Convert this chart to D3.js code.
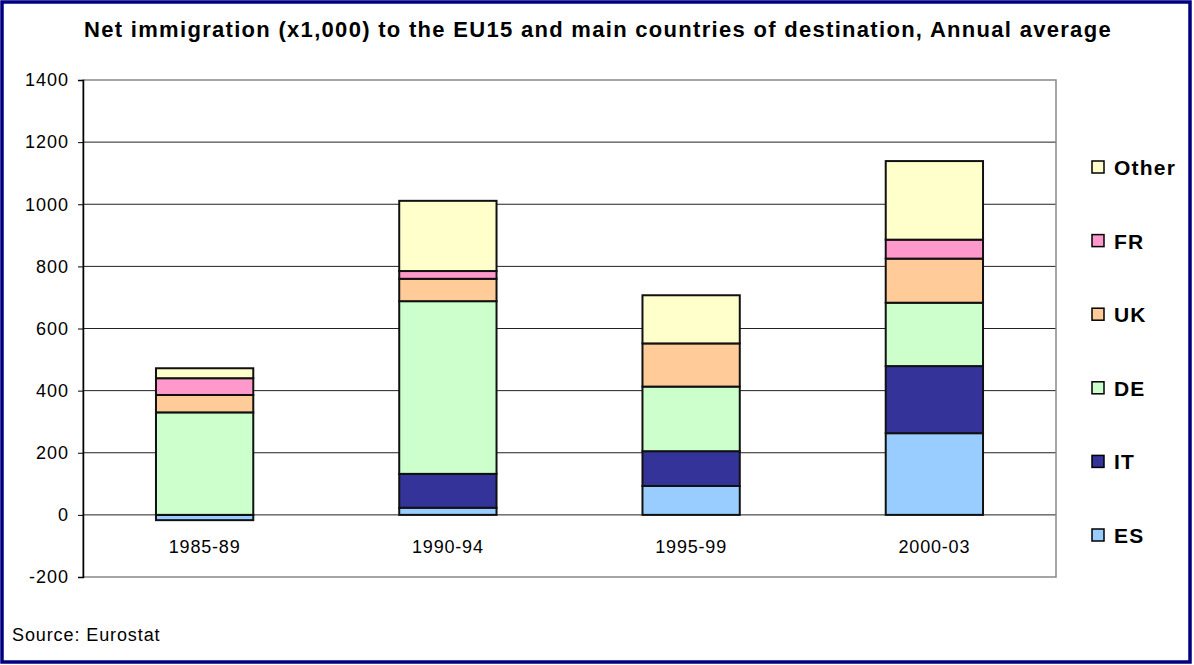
<!DOCTYPE html>
<html>
<head>
<meta charset="utf-8">
<script src="https://cdn.jsdelivr.net/npm/d3@7"></script>
<style>
  body { margin: 0; background: #fff; }
  text { font-family: Arial, 'Liberation Sans', sans-serif; }
</style>
</head>
<body>
<div id="chart"></div>
<script>
const periods = ['1985-89', '1990-94', '1995-99', '2000-03']
const countries = ['ES', 'IT', 'DE', 'UK', 'FR', 'Other']
const colors = ['#99ccff', '#333399', '#ccffcc', '#ffcc99', '#ff99cc', '#ffffcc']

// values, x1,000
const esValues = [-17, 23, 93, 263]
const itValues = [0, 109, 112, 216]
const deValues = [330, 556, 208, 204]
const ukValues = [56, 72, 139, 142]
const frValues = [54, 25, 0, 61]
const otherValues = [32, 226, 155, 253]

const yTicks = [-200, 0, 200, 400, 600, 800, 1000, 1200, 1400]

const seriesValues = [esValues, itValues, deValues, ukValues, frValues, otherValues]
const rows = periods.map((p, i) => {
  const row = { period: p }
  countries.forEach((c, j) => { row[c] = seriesValues[j][i] })
  return row
})

const W = 1194
const H = 665
const plot = { left: 83, top: 80, right: 1056, bottom: 577 }

const svg = d3
  .select('#chart')
  .append('svg')
  .attr('width', W)
  .attr('height', H)

// outer frame
svg.append('rect')
  .attr('x', 2).attr('y', 2)
  .attr('width', W - 6).attr('height', H - 5)
  .attr('fill', '#fff')
  .attr('stroke', '#000080')
  .attr('stroke-width', 3.5)

svg.append('text')
  .attr('x', 598)
  .attr('y', 37)
  .attr('text-anchor', 'middle')
  .attr('font-size', 22)
  .attr('font-weight', 'bold')
  .attr('letter-spacing', 1.3)
  .text('Net immigration (x1,000) to the EU15 and main countries of destination, Annual average')

const xPositionScale = d3
  .scaleBand()
  .domain(periods)
  .range([plot.left, plot.right])
  .paddingInner(0.6)
  .paddingOuter(0.3)

const yPositionScale = d3
  .scaleLinear()
  .domain([-200, 1400])
  .range([plot.bottom, plot.top])

// gridlines
svg.append('g')
  .selectAll('line')
  .data(yTicks.filter(d => d > -200 && d < 1400))
  .enter()
  .append('line')
  .attr('x1', plot.left)
  .attr('x2', plot.right)
  .attr('y1', d => yPositionScale(d))
  .attr('y2', d => yPositionScale(d))
  .attr('stroke', '#222')
  .attr('stroke-width', 1)

// plot border
svg.append('rect')
  .attr('x', plot.left)
  .attr('y', plot.top)
  .attr('width', plot.right - plot.left)
  .attr('height', plot.bottom - plot.top)
  .attr('fill', 'none')
  .attr('stroke', '#888')
  .attr('stroke-width', 1.5)

const stack = d3.stack()
  .keys(countries)
  .offset(d3.stackOffsetDiverging)

const layers = stack(rows)

svg.append('g')
  .selectAll('g')
  .data(layers)
  .enter()
  .append('g')
  .attr('fill', (d, i) => colors[i])
  .selectAll('rect')
  .data(d => d.filter(s => s[1] !== s[0]))
  .enter()
  .append('rect')
  .attr('x', d => xPositionScale(d.data.period))
  .attr('width', xPositionScale.bandwidth())
  .attr('y', d => yPositionScale(Math.max(d[0], d[1])))
  .attr('height', d => Math.abs(yPositionScale(d[0]) - yPositionScale(d[1])))
  .attr('stroke', '#111')
  .attr('stroke-width', 2)

// y axis
const yAxis = d3.axisLeft(yPositionScale)
  .tickValues(yTicks)
  .tickSize(5)
  .tickPadding(9)
  .tickFormat(d => String(d))

svg.append('g')
  .attr('class', 'axis y-axis')
  .attr('transform', 'translate(' + plot.left + ',0)')
  .call(yAxis)
  .call(g => g.select('.domain').attr('stroke', '#000').attr('stroke-width', 1.5))
  .call(g => g.selectAll('text')
    .attr('font-size', 18)
    .attr('letter-spacing', 1)
    .attr('fill', '#000'))

// x labels
svg.append('g')
  .selectAll('text')
  .data(periods)
  .enter()
  .append('text')
  .attr('x', d => xPositionScale(d) + xPositionScale.bandwidth() / 2)
  .attr('y', 553)
  .attr('text-anchor', 'middle')
  .attr('font-size', 18)
  .attr('letter-spacing', 0.8)
  .text(d => d)

// legend, top to bottom reversed
const legendItems = countries.slice().reverse()
const legend = svg.append('g')
  .selectAll('g')
  .data(legendItems)
  .enter()
  .append('g')
  .attr('transform', (d, i) => 'translate(1092,' + (167 + i * 73.6) + ')')

legend.append('rect')
  .attr('x', 0)
  .attr('y', -6)
  .attr('width', 12)
  .attr('height', 12)
  .attr('fill', d => colors[countries.indexOf(d)])
  .attr('stroke', '#000')
  .attr('stroke-width', 1.5)

legend.append('text')
  .attr('x', 22)
  .attr('y', 8)
  .attr('font-size', 21)
  .attr('font-weight', 'bold')
  .attr('letter-spacing', 1.2)
  .text(d => d)

svg.append('text')
  .attr('x', 12)
  .attr('y', 641)
  .attr('font-size', 18)
  .attr('letter-spacing', 0.9)
  .text('Source: Eurostat')
</script>
</body>
</html>
